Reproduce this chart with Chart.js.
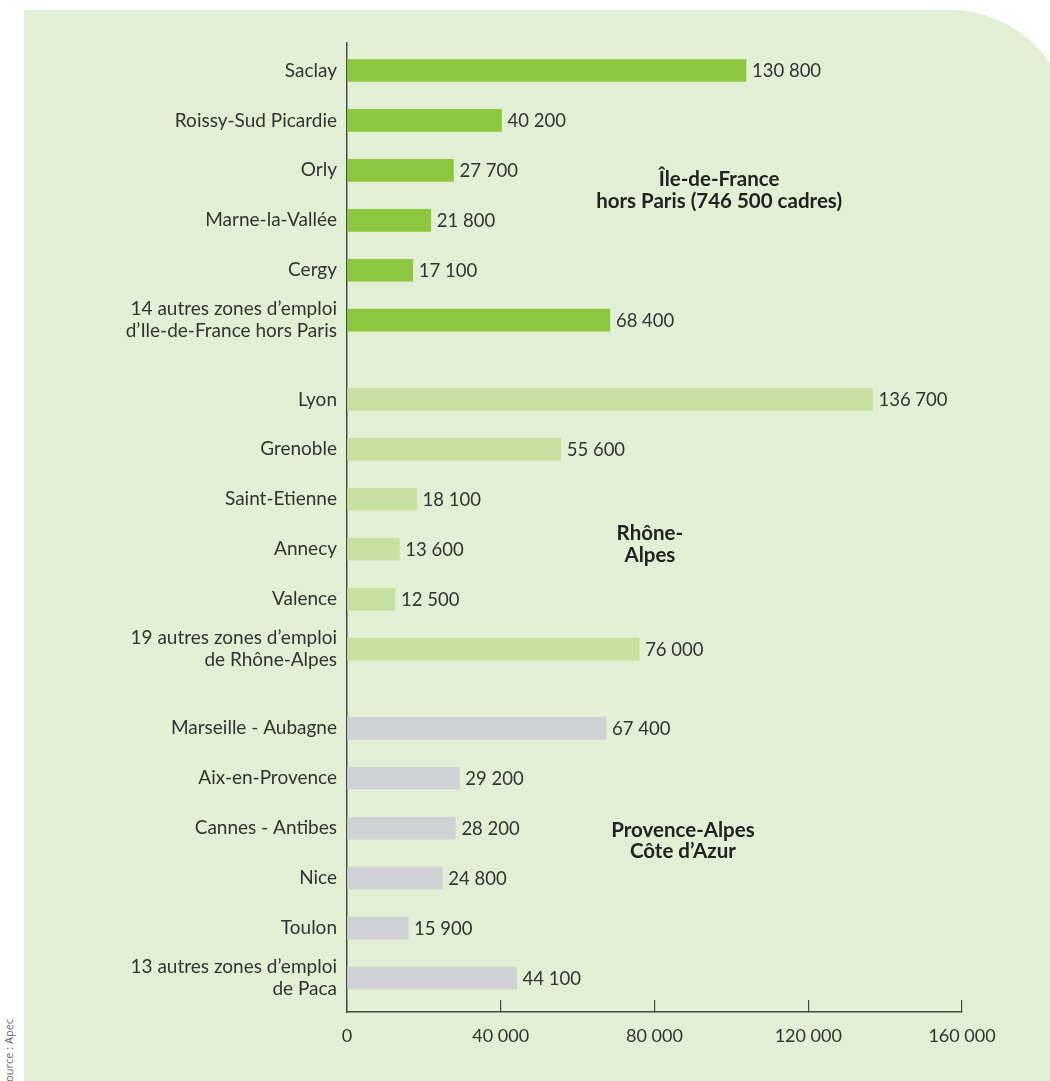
<!DOCTYPE html>
<html lang="fr">
<head>
<meta charset="utf-8">
<title>Cadres par zone d'emploi</title>
<script src="https://cdn.jsdelivr.net/npm/chart.js@4.4.1/dist/chart.umd.min.js"></script>
<style>
  html, body { margin: 0; padding: 0; background: #fff; }
  body { width: 1050px; height: 1081px; position: relative; overflow: hidden; }
  .panel {
    position: absolute; left: 24px; top: 10px;
    width: 1047px; height: 1100px;
    background: #e2efd5;
    border-top-right-radius: 121px;
  }
  .source {
    position: absolute; left: 1px; top: 1088px;
    transform-origin: 0 0; transform: rotate(-90deg);
    font: 11px 'Open Sans', sans-serif; color: #666; white-space: nowrap;
  }
  #chart { position: absolute; left: 0; top: 0; }
</style>
</head>
<body>
<div class="panel"></div>
<div class="source">Source : Apec</div>
<canvas id="chart" width="1050" height="1081"></canvas>

<script>
// ── DATA ───────────────────────────────────────────────────────────────────

const IDF_ZONES = [
  'Saclay', 'Roissy-Sud Picardie', 'Orly', 'Marne-la-Vallée', 'Cergy',
  ['14 autres zones d’emploi', 'd’Ile-de-France hors Paris'],
];
// printed figures, and the bar lengths as drawn (Saclay's bar is drawn short in the source)
const IDF_VALUES = [130800, 40200, 27700, 21800, 17100, 68400];
const IDF_BARS   = [103800, 40200, 27700, 21800, 17100, 68400];

const RA_ZONES = [
  'Lyon', 'Grenoble', 'Saint-Etienne', 'Annecy', 'Valence',
  ['19 autres zones d’emploi', 'de Rhône-Alpes'],
];
const RA_VALUES = [136700, 55600, 18100, 13600, 12500, 76000];

const PACA_ZONES = [
  'Marseille - Aubagne', 'Aix-en-Provence', 'Cannes - Antibes', 'Nice', 'Toulon',
  ['13 autres zones d’emploi', 'de Paca'],
];
const PACA_VALUES = [67400, 29200, 28200, 24800, 15900, 44100];

const X_TICKS = [0, 40000, 80000, 120000, 160000];

const REGION_NOTES = [
  ['Île-de-France', 'hors Paris (746 500 cadres)'],
  ['Rhône-', 'Alpes'],
  ['Provence-Alpes', 'Côte d’Azur'],
];

// ── CONFIG ─────────────────────────────────────────────────────────────────

const FONT = 'Lato, "Open Sans", sans-serif';
const TEXT = '#333';
const AXIS = '#4a4a4a';
const GROUP_STEP = 6.586;   // slots between first bars of consecutive regions

const GROUPS = [
  { zones: IDF_ZONES,  bars: IDF_BARS,    printed: IDF_VALUES,  color: '#8dc63f',
    note: REGION_NOTES[0], noteX: 96800, noteY: 2.40 },
  { zones: RA_ZONES,   bars: RA_VALUES,   printed: RA_VALUES,   color: '#c6e0a0',
    note: REGION_NOTES[1], noteX: 78800, noteY: 2.90 },
  { zones: PACA_ZONES, bars: PACA_VALUES, printed: PACA_VALUES, color: '#d0d1d3',
    note: REGION_NOTES[2], noteX: 87400, noteY: 2.25 },
];

// ── HELPERS ────────────────────────────────────────────────────────────────

const fmt = v => String(v).replace(/\B(?=(\d{3})+(?!\d))/g, ' ');

const POSITIONS = [];
const LABELS = [];
GROUPS.forEach((g, gi) => g.zones.forEach((z, i) => {
  POSITIONS.push(gi * GROUP_STEP + i);
  LABELS.push(z);
}));

const datasets = GROUPS.map((g, gi) => ({
  label: g.note.join(' '),
  data: g.bars.map((v, i) => ({ x: v, y: gi * GROUP_STEP + i })),
  backgroundColor: g.color,
  borderWidth: 0,
  barThickness: 22,
  grouped: false,
  printed: g.printed,
}));

// value at the end of every bar
const valueLabels = {
  id: 'valueLabels',
  afterDatasetsDraw(chart) {
    const { ctx } = chart;
    ctx.save();
    ctx.font = `18.5px ${FONT}`;
    ctx.fillStyle = TEXT;
    ctx.textAlign = 'left';
    ctx.textBaseline = 'middle';
    chart.data.datasets.forEach((ds, di) => {
      chart.getDatasetMeta(di).data.forEach((bar, i) => {
        ctx.fillText(fmt(ds.printed[i]), bar.x + 6, bar.y + 1);
      });
    });
    ctx.restore();
  },
};

// bold region names inside the plot
const regionNotes = {
  id: 'regionNotes',
  afterDatasetsDraw(chart) {
    const { ctx, scales: { x, y } } = chart;
    ctx.save();
    ctx.font = `bold 20.5px ${FONT}`;
    ctx.fillStyle = '#222';
    ctx.textAlign = 'center';
    ctx.textBaseline = 'middle';
    GROUPS.forEach((g, gi) => {
      const cx = x.getPixelForValue(g.noteX);
      const cy = y.getPixelForValue(gi * GROUP_STEP + g.noteY);
      g.note.forEach((line, li) => {
        ctx.fillText(line, cx, cy + (li - (g.note.length - 1) / 2) * 21.5);
      });
    });
    ctx.restore();
  },
};

// ── CHART ──────────────────────────────────────────────────────────────────

new Chart(document.getElementById('chart').getContext('2d'), {
  type: 'bar',
  data: { datasets },
  plugins: [valueLabels, regionNotes],
  options: {
    indexAxis: 'y',
    responsive: false,
    animation: false,
    layout: { padding: { top: 43, right: 88, left: 0, bottom: 0 } },
    plugins: { legend: { display: false }, tooltip: { enabled: false } },
    scales: {
      x: {
        type: 'linear',
        min: 0,
        max: 160000,
        afterBuildTicks: s => { s.ticks = X_TICKS.map(v => ({ value: v })); },
        afterFit: s => { s.height = 69; },
        grid: { drawOnChartArea: false, drawTicks: true, tickLength: -12, color: AXIS, lineWidth: 1.2 },
        border: { display: true, color: AXIS, width: 1.5 },
        ticks: {
          autoSkip: false, maxRotation: 0, padding: 25,
          color: TEXT, font: { family: FONT, size: 18 },
          callback: v => fmt(v),
        },
      },
      y: {
        type: 'linear',
        reverse: true,
        offset: false,
        min: -0.55,
        max: 2 * GROUP_STEP + 5 + 0.68,
        afterBuildTicks: s => { s.ticks = POSITIONS.map(v => ({ value: v })); },
        afterFit: s => { s.width = 347; },
        grid: { display: false, drawTicks: false },
        border: { display: true, color: AXIS, width: 1.5 },
        ticks: {
          autoSkip: false, padding: 10,
          color: TEXT, font: { family: FONT, size: 19, lineHeight: 1.15 },
          callback: (v, i) => LABELS[i],
        },
      },
    },
  },
});
</script>
</body>
</html>
